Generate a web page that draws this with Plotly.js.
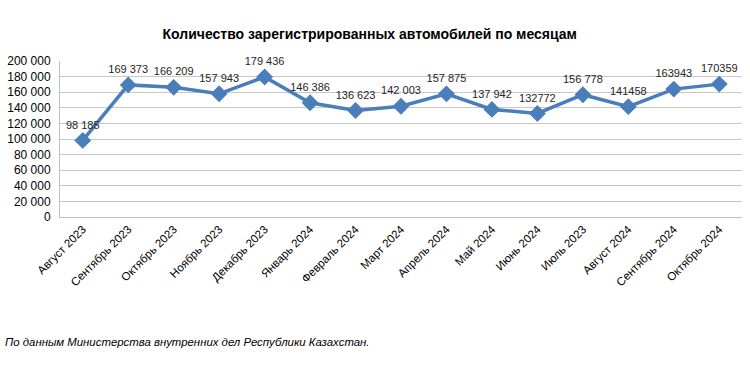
<!DOCTYPE html>
<html>
<head>
<meta charset="utf-8">
<script src="https://cdn.plot.ly/plotly-3.0.1.min.js"></script>
<style>html,body{margin:0;padding:0;background:#fff;}#chart{width:750px;height:375px;}</style>
</head>
<body>
<div id="chart"></div>
<script>
const months = ["Август 2023","Сентябрь 2023","Октябрь 2023","Ноябрь 2023","Декабрь 2023","Январь 2024","Февраль 2024","Март 2024","Апрель 2024","Май 2024","Июнь 2024","Июль 2023","Август 2024","Сентябрь 2024","Октябрь 2024"];
const registrations = [98185,169373,166209,157943,179436,146386,136623,142003,157875,137942,132772,156778,141458,163943,170359];
const labels = ["98 185","169 373","166 209","157 943","179 436","146 386","136 623","142 003","157 875","137 942","132772","156 778","141458","163943","170359"];
const yTicks = [0,20000,40000,60000,80000,100000,120000,140000,160000,180000,200000];
const yTickText = ["0","20 000","40 000","60 000","80 000","100 000","120 000","140 000","160 000","180 000","200 000"];

const font = "Liberation Sans, Arial, sans-serif";
const trace = {
  x: months, y: registrations, text: labels,
  type: "scatter", mode: "lines+markers+text",
  textposition: "top center",
  textfont: {family: font, size: 11, color: "#262626"},
  line: {color: "#4A7EBB", width: 3.5},
  marker: {symbol: "diamond", size: 13, color: "#4A7EBB"},
  cliponaxis: false, hoverinfo: "none"
};
const layout = {
  width: 750, height: 375,
  margin: {l: 60, r: 8, t: 61, b: 158},
  paper_bgcolor: "#fff", plot_bgcolor: "#fff",
  showlegend: false,
  font: {family: font, size: 11, color: "#000"},
  title: {text: "<b>Количество зарегистрированных автомобилей по месяцам</b>", x: 0.493, xanchor: "center", y: 0.91, yanchor: "middle", font: {family: font, size: 14, color: "#000"}},
  xaxis: {type: "category", tickangle: -45, showgrid: false, showline: true, linecolor: "#BFBFBF", linewidth: 1, ticks: "", tickfont: {family: font, size: 11.5, color: "#000"}, range: [-0.5, 14.5], automargin: false},
  yaxis: {range: [0, 200000], tickvals: yTicks, ticktext: yTickText, showgrid: true, gridcolor: "#C8C8C8", gridwidth: 1, zeroline: false, showline: true, linecolor: "#BFBFBF", ticks: "", ticklabelstandoff: 6, tickfont: {family: font, size: 12, color: "#000"}, automargin: false},
  annotations: [{text: "<i>По данным Министерства внутренних дел Республики Казахстан.</i>", xref: "paper", yref: "paper", x: -0.084, y: -0.8, xanchor: "left", yanchor: "middle", showarrow: false, font: {family: font, size: 11.4, color: "#000"}}]
};
Plotly.newPlot("chart", [trace], layout, {staticPlot: true, displayModeBar: false});
</script>
</body>
</html>
